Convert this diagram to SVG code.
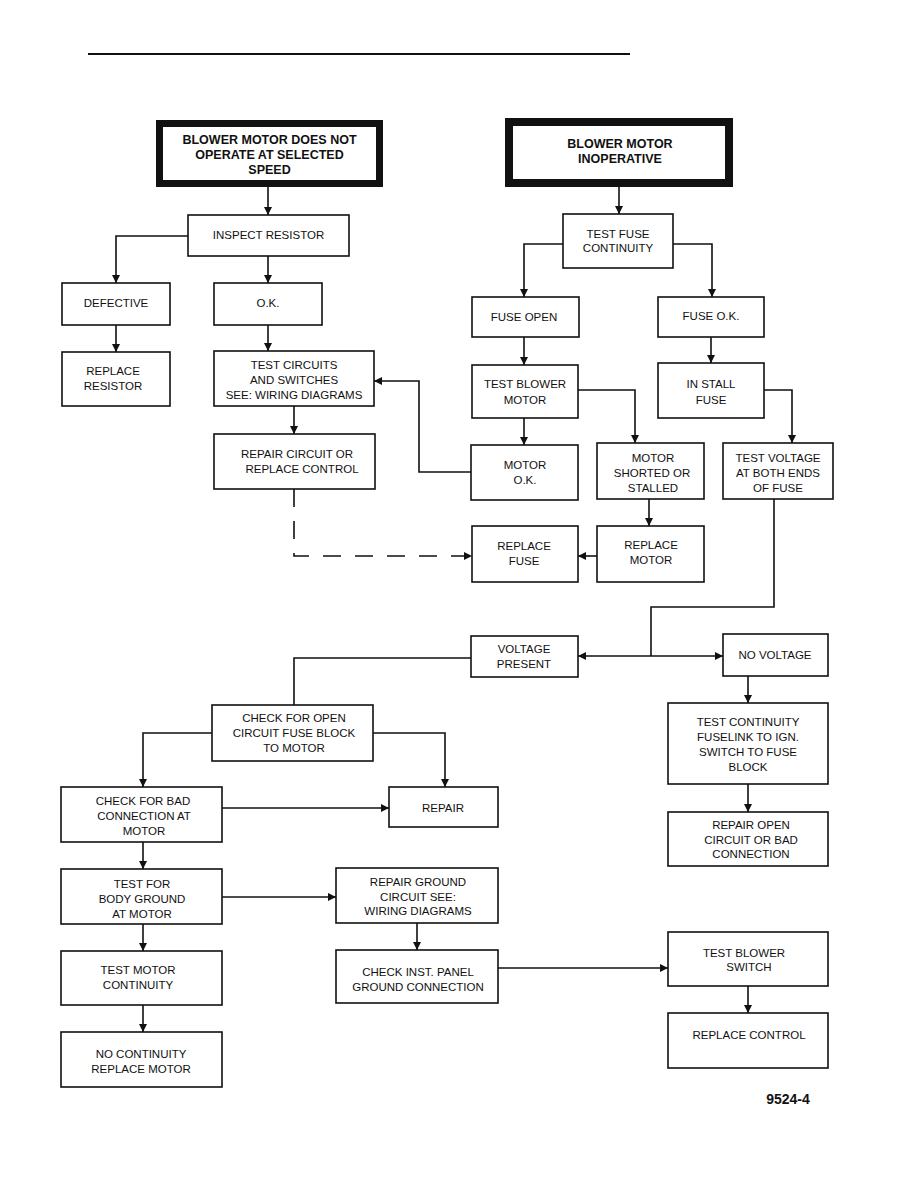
<svg xmlns="http://www.w3.org/2000/svg" width="918" height="1188" viewBox="0 0 918 1188">
<defs>
<style>
.b{fill:#fff;stroke:#111;stroke-width:1.6}
.hb{fill:#fff;stroke:#111}
.t{font-family:"Liberation Sans",Arial,sans-serif;font-size:11.5px;fill:#111;text-anchor:middle}
.tb{font-family:"Liberation Sans",Arial,sans-serif;font-size:12.5px;font-weight:bold;fill:#111;text-anchor:middle}
.c{fill:none;stroke:#111;stroke-width:1.6}
.d{fill:none;stroke:#111;stroke-width:1.6;stroke-dasharray:18,14}
</style>
<marker id="ah" viewBox="0 0 10 10" refX="10" refY="5" markerWidth="10" markerHeight="8" orient="auto" markerUnits="userSpaceOnUse"><path d="M0,0 L10,5 L0,10 z" fill="#111"/></marker>
</defs>
<rect width="918" height="1188" fill="#fff"/>
<line x1="88" y1="54" x2="630" y2="54" stroke="#111" stroke-width="2"/>

<g id="connectors">
<path class="c" d="M268,187 V215" marker-end="url(#ah)"/>
<path class="c" d="M188,236 H116 V283" marker-end="url(#ah)"/>
<path class="c" d="M268,256 V283" marker-end="url(#ah)"/>
<path class="c" d="M116,325 V352" marker-end="url(#ah)"/>
<path class="c" d="M268,325 V351" marker-end="url(#ah)"/>
<path class="c" d="M471,472 H419 V381 H374" marker-end="url(#ah)"/>
<path class="c" d="M294,406 V434" marker-end="url(#ah)"/>
<path class="d" d="M294,489 V556 H472" marker-end="url(#ah)"/>
<path class="c" d="M619,187 V214" marker-end="url(#ah)"/>
<path class="c" d="M563,244 H524 V297" marker-end="url(#ah)"/>
<path class="c" d="M673,244 H712 V297" marker-end="url(#ah)"/>
<path class="c" d="M524,337 V365" marker-end="url(#ah)"/>
<path class="c" d="M711,337 V363" marker-end="url(#ah)"/>
<path class="c" d="M578,390 H635 V443" marker-end="url(#ah)"/>
<path class="c" d="M524,418 V445" marker-end="url(#ah)"/>
<path class="c" d="M764,390 H792 V443" marker-end="url(#ah)"/>
<path class="c" d="M649,499 V526" marker-end="url(#ah)"/>
<path class="c" d="M597,556 H578" marker-end="url(#ah)"/>
<path class="c" d="M774,499 V607 H651 V656"/>
<path class="c" d="M651,656 H578" marker-end="url(#ah)"/>
<path class="c" d="M651,656 H723" marker-end="url(#ah)"/>
<path class="c" d="M748,676 V703" marker-end="url(#ah)"/>
<path class="c" d="M748,784 V812" marker-end="url(#ah)"/>
<path class="c" d="M471,658 H294 V705"/>
<path class="c" d="M212,733 H143 V787" marker-end="url(#ah)"/>
<path class="c" d="M373,733 H445 V787" marker-end="url(#ah)"/>
<path class="c" d="M222,808 H389" marker-end="url(#ah)"/>
<path class="c" d="M143,842 V869" marker-end="url(#ah)"/>
<path class="c" d="M222,897 H336" marker-end="url(#ah)"/>
<path class="c" d="M417,923 V950" marker-end="url(#ah)"/>
<path class="c" d="M143,924 V951" marker-end="url(#ah)"/>
<path class="c" d="M143,1005 V1032" marker-end="url(#ah)"/>
<path class="c" d="M498,968 H668" marker-end="url(#ah)"/>
<path class="c" d="M748,986 V1013" marker-end="url(#ah)"/>
</g>

<g id="n-not-operate">
<rect class="hb" x="159.5" y="123.5" width="220" height="60" stroke-width="7"/>
<text class="tb" x="269.5" y="143.5">BLOWER MOTOR DOES NOT</text>
<text class="tb" x="269.5" y="158.5">OPERATE AT SELECTED</text>
<text class="tb" x="269.5" y="173.5">SPEED</text>
</g>
<g id="n-inoperative">
<rect class="hb" x="509" y="122" width="220" height="61" stroke-width="8"/>
<text class="tb" x="620" y="147.5">BLOWER MOTOR</text>
<text class="tb" x="620" y="162.5">INOPERATIVE</text>
</g>
<g id="n-inspect">
<rect class="b" x="188" y="215" width="161" height="41"/>
<text class="t" x="268.5" y="238.5">INSPECT RESISTOR</text>
</g>
<g id="n-defective">
<rect class="b" x="62" y="283" width="108" height="42"/>
<text class="t" x="116" y="306.5">DEFECTIVE</text>
</g>
<g id="n-ok">
<rect class="b" x="214" y="283" width="108" height="42"/>
<text class="t" x="268" y="306.5">O.K.</text>
</g>
<g id="n-replace-resistor">
<rect class="b" x="62" y="352" width="108" height="54"/>
<text class="t" x="113" y="374.5">REPLACE</text>
<text class="t" x="113" y="389.5">RESISTOR</text>
</g>
<g id="n-test-circuits">
<rect class="b" x="214" y="351" width="160" height="55"/>
<text class="t" x="294" y="368.5">TEST CIRCUITS</text>
<text class="t" x="294" y="383.5">AND SWITCHES</text>
<text class="t" x="294" y="398.5">SEE: WIRING DIAGRAMS</text>
</g>
<g id="n-repair-circuit">
<rect class="b" x="214" y="434" width="161" height="55"/>
<text class="t" x="297" y="457.5">REPAIR CIRCUIT OR</text>
<text class="t" x="302" y="472.5">REPLACE CONTROL</text>
</g>
<g id="n-test-fuse">
<rect class="b" x="563" y="214" width="110" height="54"/>
<text class="t" x="618" y="237.5">TEST FUSE</text>
<text class="t" x="618" y="251.5">CONTINUITY</text>
</g>
<g id="n-fuse-open">
<rect class="b" x="472" y="297" width="107" height="40"/>
<text class="t" x="524" y="320.5">FUSE OPEN</text>
</g>
<g id="n-fuse-ok">
<rect class="b" x="658" y="297" width="106" height="40"/>
<text class="t" x="711" y="319.5">FUSE O.K.</text>
</g>
<g id="n-test-blower-motor">
<rect class="b" x="472" y="365" width="106" height="53"/>
<text class="t" x="525" y="387.5">TEST BLOWER</text>
<text class="t" x="525" y="403.5">MOTOR</text>
</g>
<g id="n-install-fuse">
<rect class="b" x="658" y="363" width="106" height="55"/>
<text class="t" x="711" y="387.5">IN STALL</text>
<text class="t" x="711" y="403.5">FUSE</text>
</g>
<g id="n-motor-ok">
<rect class="b" x="471" y="445" width="107" height="55"/>
<text class="t" x="525" y="468.5">MOTOR</text>
<text class="t" x="525" y="483.5">O.K.</text>
</g>
<g id="n-motor-shorted">
<rect class="b" x="597" y="443" width="107" height="56"/>
<text class="t" x="653" y="461.5">MOTOR</text>
<text class="t" x="652" y="476.5">SHORTED OR</text>
<text class="t" x="653" y="491.5">STALLED</text>
</g>
<g id="n-test-voltage">
<rect class="b" x="723" y="443" width="110" height="56"/>
<text class="t" x="778" y="461.5">TEST VOLTAGE</text>
<text class="t" x="778" y="476.5">AT BOTH ENDS</text>
<text class="t" x="778" y="491.5">OF FUSE</text>
</g>
<g id="n-replace-fuse">
<rect class="b" x="472" y="526" width="106" height="56"/>
<text class="t" x="524" y="549.5">REPLACE</text>
<text class="t" x="524" y="564.5">FUSE</text>
</g>
<g id="n-replace-motor">
<rect class="b" x="597" y="526" width="107" height="56"/>
<text class="t" x="651" y="548.5">REPLACE</text>
<text class="t" x="651" y="563.5">MOTOR</text>
</g>
<g id="n-voltage-present">
<rect class="b" x="471" y="636" width="107" height="41"/>
<text class="t" x="524" y="652.5">VOLTAGE</text>
<text class="t" x="524" y="667.5">PRESENT</text>
</g>
<g id="n-no-voltage">
<rect class="b" x="723" y="634" width="105" height="42"/>
<text class="t" x="775" y="658.5">NO VOLTAGE</text>
</g>
<g id="n-test-continuity-fuselink">
<rect class="b" x="668" y="703" width="160" height="81"/>
<text class="t" x="748" y="726">TEST CONTINUITY</text>
<text class="t" x="748" y="741">FUSELINK TO IGN.</text>
<text class="t" x="748" y="755.5">SWITCH TO FUSE</text>
<text class="t" x="748" y="770.5">BLOCK</text>
</g>
<g id="n-repair-open">
<rect class="b" x="668" y="812" width="160" height="54"/>
<text class="t" x="751" y="828.5">REPAIR OPEN</text>
<text class="t" x="751" y="843.5">CIRCUIT OR BAD</text>
<text class="t" x="751" y="857.5">CONNECTION</text>
</g>
<g id="n-check-open">
<rect class="b" x="212" y="705" width="161" height="56"/>
<text class="t" x="294" y="722">CHECK FOR OPEN</text>
<text class="t" x="294" y="737">CIRCUIT FUSE BLOCK</text>
<text class="t" x="294" y="751.5">TO MOTOR</text>
</g>
<g id="n-check-bad">
<rect class="b" x="61" y="787" width="161" height="55"/>
<text class="t" x="143" y="804.5">CHECK FOR BAD</text>
<text class="t" x="144" y="819.5">CONNECTION AT</text>
<text class="t" x="144" y="834.5">MOTOR</text>
</g>
<g id="n-repair">
<rect class="b" x="389" y="787" width="109" height="40"/>
<text class="t" x="443" y="811.5">REPAIR</text>
</g>
<g id="n-test-body">
<rect class="b" x="61" y="869" width="161" height="55"/>
<text class="t" x="142" y="887.5">TEST FOR</text>
<text class="t" x="142" y="902.5">BODY GROUND</text>
<text class="t" x="142" y="917.5">AT MOTOR</text>
</g>
<g id="n-repair-ground">
<rect class="b" x="336" y="868" width="162" height="55"/>
<text class="t" x="418" y="885.5">REPAIR GROUND</text>
<text class="t" x="418" y="900.5">CIRCUIT SEE:</text>
<text class="t" x="418" y="914.5">WIRING DIAGRAMS</text>
</g>
<g id="n-check-inst">
<rect class="b" x="336" y="950" width="162" height="53"/>
<text class="t" x="418" y="976">CHECK INST. PANEL</text>
<text class="t" x="418" y="990.5">GROUND CONNECTION</text>
</g>
<g id="n-test-motor-cont">
<rect class="b" x="61" y="951" width="161" height="54"/>
<text class="t" x="138" y="973.5">TEST MOTOR</text>
<text class="t" x="138" y="988.5">CONTINUITY</text>
</g>
<g id="n-no-continuity">
<rect class="b" x="61" y="1032" width="161" height="55"/>
<text class="t" x="141" y="1057.5">NO CONTINUITY</text>
<text class="t" x="141" y="1072.5">REPLACE MOTOR</text>
</g>
<g id="n-test-switch">
<rect class="b" x="668" y="932" width="160" height="54"/>
<text class="t" x="744" y="956.5">TEST BLOWER</text>
<text class="t" x="749" y="970.5">SWITCH</text>
</g>
<g id="n-replace-control">
<rect class="b" x="668" y="1013" width="160" height="55"/>
<text class="t" x="749" y="1038.5">REPLACE CONTROL</text>
</g>
<text x="788" y="1104" font-family="Liberation Sans, Arial, sans-serif" font-size="14" font-weight="bold" fill="#111" text-anchor="middle">9524-4</text>
</svg>
